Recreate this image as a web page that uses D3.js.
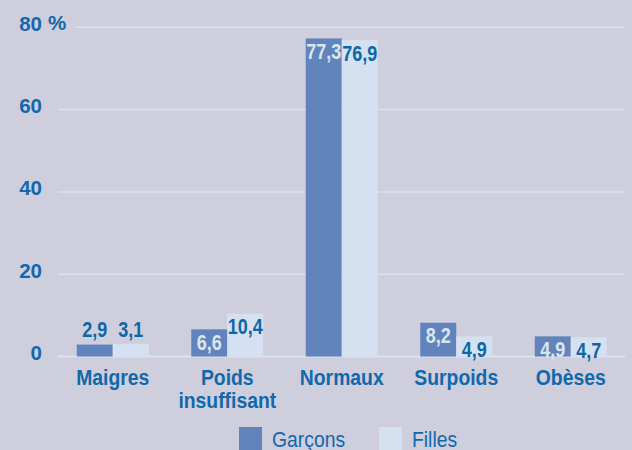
<!DOCTYPE html>
<html>
<head>
<meta charset="utf-8">
<script src="https://cdn.jsdelivr.net/npm/d3@7/dist/d3.min.js"></script>
<style>
  html, body { margin: 0; padding: 0; background: #cfcedc; }
  svg { display: block; }
  .sans { font-family: "Liberation Sans", Arial, sans-serif; }
</style>
</head>
<body>
<svg id="chart" width="632" height="450"></svg>
<script>
const categories = ["Maigres", "Poids\ninsuffisant", "Normaux", "Surpoids", "Obèses"];
const seriesNames = ["Garçons", "Filles"];
const garcons = [2.9, 6.6, 77.3, 8.2, 4.9];
const filles = [3.1, 10.4, 76.9, 4.9, 4.7];
const yTicks = [0, 20, 40, 60, 80];
const seriesValues = [garcons, filles];

const W = 632, H = 450;
const colors = { "Garçons": "#6184bd", "Filles": "#d5e0f1" };
const labelColors = { "Garçons": "#dae6ee", "Filles": "#0c67a6" };
const blue = "#1068ad";
const gridColor = "#d9e3f2";
const condense = 0.8;

const svg = d3.select("#chart");
svg.append("rect").attr("width", W).attr("height", H).attr("fill", "#cfcedc");

const y = d3.scaleLinear().domain([0, 80]).range([356.5, 27.3]);
const x0 = d3.scaleBand().domain(categories).range([55.5, 628]).paddingInner(0.371).paddingOuter(0.1855);
const x1 = d3.scaleBand().domain(seriesNames).range([0, x0.bandwidth()]);

// gridlines
const grid = svg.append("g");
yTicks.forEach(t => {
  grid.append("line")
    .attr("x1", t === 80 ? 75 : 58).attr("x2", 625)
    .attr("y1", y(t)).attr("y2", y(t))
    .attr("stroke", gridColor).attr("stroke-width", t === 0 ? 2.2 : 1.5);
});

// y tick labels via axis
const yAxis = d3.axisLeft(y).tickValues(yTicks).tickSize(0).tickPadding(0).tickFormat(d => d);
const ya = svg.append("g").attr("transform", "translate(42,0)").call(yAxis);
ya.select(".domain").remove();
ya.selectAll("text")
  .attr("class", "sans")
  .attr("font-size", 20.5).attr("font-weight", "bold").attr("fill", blue)
  .attr("dy", "0.15em").attr("text-anchor", "end");
svg.append("text").attr("class", "sans")
  .attr("x", 48).attr("y", y(80) + 3)
  .attr("font-size", 20.5).attr("font-weight", "bold").attr("fill", blue)
  .text("%");

// bars
const data = categories.map((c, i) => ({ cat: c, vals: seriesNames.map((s, j) => ({ s, v: seriesValues[j][i] })) }));
const groups = svg.append("g").selectAll("g").data(data).join("g")
  .attr("transform", d => `translate(${x0(d.cat)},0)`);
groups.selectAll("rect").data(d => d.vals).join("rect")
  .attr("x", d => x1(d.s)).attr("width", x1.bandwidth())
  .attr("y", d => y(d.v)).attr("height", d => y(0) - y(d.v))
  .attr("fill", d => colors[d.s]);

// value labels (condensed via horizontal scale)
groups.selectAll("text.val").data(d => d.vals).join("text")
  .attr("class", "val sans")
  .attr("transform", d => {
    const cx = x1(d.s) + x1.bandwidth() / 2;
    const cy = d.v < 4 ? y(0) - 19.5 : y(d.v) + 20.5;
    return `translate(${cx},${cy}) scale(${condense},1)`;
  })
  .attr("text-anchor", "middle")
  .attr("font-size", 22.5).attr("font-weight", "bold")
  .attr("fill", d => d.v < 4 ? labelColors["Filles"] : labelColors[d.s])
  .text(d => String(d.v).replace(".", ","));

// category labels
const xa = svg.append("g");
categories.forEach(c => {
  const lines = c.split("\n");
  const cx = x0(c) + x0.bandwidth() / 2;
  const t = xa.append("text").attr("class", "sans")
    .attr("transform", `translate(${cx},385) scale(0.9,1)`)
    .attr("text-anchor", "middle")
    .attr("font-size", 21.5).attr("font-weight", "bold").attr("fill", blue);
  lines.forEach((l, k) => {
    t.append("tspan").attr("x", 0).attr("dy", k === 0 ? 0 : 23).text(l);
  });
});

// legend
const legendX = [239, 379];
seriesNames.forEach((s, i) => {
  svg.append("rect").attr("x", legendX[i]).attr("y", 427).attr("width", 23).attr("height", 23).attr("fill", colors[s]);
  svg.append("text").attr("class", "sans")
    .attr("transform", `translate(${legendX[i] + 33},447) scale(0.86,1)`)
    .attr("font-size", 22.5).attr("fill", blue)
    .text(s);
});
</script>
</body>
</html>
